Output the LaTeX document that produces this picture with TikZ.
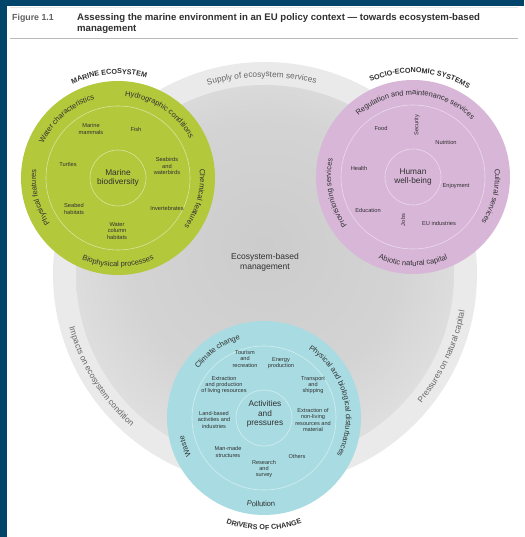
\documentclass[tikz,border=0pt]{standalone}
\usepackage{fontspec}
\setmainfont{Liberation Sans}
\usetikzlibrary{decorations.text}
\definecolor{frame}{HTML}{02446A}
\definecolor{eco}{HTML}{B4C83C}
\definecolor{soc}{HTML}{D8B6D8}
\definecolor{drv}{HTML}{A8DCE2}
\definecolor{txt}{HTML}{303030}
\definecolor{band}{HTML}{EAEAEA}
\pgfdeclareradialshading{ball}{\pgfpoint{0bp}{4bp}}{color(0bp)=(gray!40); color(18bp)=(gray!34); color(36bp)=(gray!16); color(46bp)=(gray!6); color(50bp)=(gray!8)}
\newcommand{\ringf}{\fontsize{7.5}{8}\selectfont\color{txt}}
\newcommand{\arcf}{\fontsize{8.3}{9}\selectfont\color{gray!80!black}}
\newcommand{\capf}{\bfseries\fontsize{7.2}{8}\selectfont\color{txt}}
% clockwise arc text: centre, radius, mid angle, half span, text
\newcommand{\cwtext}[5]{\path[decorate,decoration={text along path,text align=center,text={#5}}] ([shift={(#3+#4:#2)}]#1) arc[start angle=#3+#4, end angle=#3-#4, radius=#2];}
% counter-clockwise arc text
\newcommand{\ccwtext}[5]{\path[decorate,decoration={text along path,text align=center,text={#5}}] ([shift={(#3-#4:#2)}]#1) arc[start angle=#3-#4, end angle=#3+#4, radius=#2];}
\begin{document}
\begin{tikzpicture}[x=1pt,y=1pt,
  inl/.style={font=\fontsize{5.7}{6.4}\selectfont, text=txt, align=center, inner sep=0pt},
  bl/.style={font=\fontsize{5.6}{6.3}\selectfont, text=txt, align=center, inner sep=0pt},
  ctr/.style={font=\fontsize{8.3}{9.3}\selectfont, text=txt, align=center, inner sep=0pt},
  disc/.style={circle, minimum size=194pt, inner sep=0pt},
  ringline/.style={draw=white, draw opacity=0.5, line width=0.6pt},
]
\useasboundingbox (0,0) rectangle (524,537);
\fill[white] (0,0) rectangle (524,537);
\fill[frame] (0,0) rectangle (7,537);
\fill[frame] (0,531) rectangle (524,537);
% header
\coordinate (r1) at (10,499);
\coordinate (r2) at (518,499);
\coordinate (t1) at (10,529.5);
\coordinate (t2) at (518,529.5);
\draw[gray!20, line width=0.4pt] (t1) -- (t2);
\draw[gray!55, line width=0.7pt] (r1) -- (r2);
\node[anchor=base west, inner sep=0pt, font=\bfseries\fontsize{8.8}{11}\selectfont, text=gray!75!black] (fig) at (12,516) {Figure 1.1};
\node[anchor=base west, inner sep=0pt, align=left, font=\bfseries\fontsize{9.6}{11}\selectfont, text=txt] (title) at (77,505) {Assessing the marine environment in an EU policy context --- towards ecosystem-based\\management};
% background disc
\coordinate (B) at (265,263);
\fill[band] (B) circle[radius=212];
\shade[shading=ball] (B) circle[radius=189];
\node[ctr, font=\fontsize{8.5}{9.8}\selectfont] (ebm) at (265,275) {Ecosystem-based\\management};
\cwtext{B}{197}{91}{40}{|\arcf|Supply of ecosystem services}
\ccwtext{B}{203}{212}{40}{|\arcf|Impacts on ecosystem condition}
\ccwtext{B}{203}{-25}{40}{|\arcf|Pressures on natural capital}
% circles
\node[disc, fill=eco] (G) at (118,359) {};
\node[disc, fill=soc] (S) at (413,360) {};
\node[disc, fill=drv] (D) at (264,119) {};
\foreach \c in {G,S,D}{
  \draw[ringline] (\c) circle[radius=72];
  \draw[ringline] (\c) circle[radius=28];
}
\foreach \a in {94,42,-8,-61,-118,-170,142}{
  \draw[ringline] ([shift={(\a:28)}]G) -- ([shift={(\a:72)}]G);
}
% titles
\cwtext{G}{104}{95}{50}{|\capf|MARINE ECOSYSTEM}
\cwtext{S}{104}{86}{55}{|\capf|SOCIO-ECONOMIC SYSTEMS}
\ccwtext{D}{112}{-90}{50}{|\capf|DRIVERS OF CHANGE}
% green
\node[ctr] (gc) at (G) {Marine\\biodiversity};
\node[inl] (g1) at ([shift={(-27,49)}]G) {Marine\\mammals};
\node[inl] (g2) at ([shift={(18,49)}]G) {Fish};
\node[inl] (g3) at ([shift={(49,12)}]G) {Seabirds\\and\\waterbirds};
\node[inl] (g4) at ([shift={(49,-30)}]G) {Invertebrates};
\node[inl] (g5) at ([shift={(-1,-53)}]G) {Water\\column\\habitats};
\node[inl] (g6) at ([shift={(-44,-31)}]G) {Seabed\\habitats};
\node[inl] (g7) at ([shift={(-50,14)}]G) {Turtles};
\cwtext{G}{82}{131}{55}{|\ringf|Water characteristics}
\cwtext{G}{82}{57}{55}{|\ringf|Hydrographic conditions}
\cwtext{G}{82}{-15}{50}{|\ringf|Chemical features}
\ccwtext{G}{89}{-90}{55}{|\ringf|Biophysical processes}
\cwtext{G}{82}{194}{50}{|\ringf|Physical features}
% purple
\node[ctr] (sc) at (S) {Human\\well-being};
\node[inl] (s1) at ([shift={(-32,49)}]S) {Food};
\node[inl, rotate=90] (s2) at ([shift={(4,52)}]S) {Security};
\node[inl] (s3) at ([shift={(33,35)}]S) {Nutrition};
\node[inl] (s4) at ([shift={(43,-9)}]S) {Enjoyment};
\node[inl] (s5) at ([shift={(26,-46)}]S) {EU industries};
\node[inl, rotate=90] (s6) at ([shift={(-10,-43)}]S) {Jobs};
\node[inl] (s7) at ([shift={(-45,-33)}]S) {Education};
\node[inl] (s8) at ([shift={(-54,9)}]S) {Health};
\cwtext{S}{82}{88}{65}{|\ringf|Regulation and maintenance services}
\cwtext{S}{82}{-14}{45}{|\ringf|Cultural services}
\ccwtext{S}{89}{-90}{55}{|\ringf|Abiotic natural capital}
\cwtext{S}{82}{192}{50}{|\ringf|Provisioning services}
% blue
\node[ctr] (dc) at ([shift={(1,4)}]D) {Activities\\and\\pressures};
\node[bl] (d1) at ([shift={(-19,59)}]D) {Tourism\\and\\recreation};
\node[bl] (d2) at ([shift={(17,55)}]D) {Energy\\production};
\node[bl] (d3) at ([shift={(49,33)}]D) {Transport\\and\\shipping};
\node[bl] (d4) at ([shift={(49,-2)}]D) {Extraction of\\non-living\\resources and\\material};
\node[bl] (d5) at ([shift={(33,-38)}]D) {Others};
\node[bl] (d6) at ([shift={(0,-51)}]D) {Research\\and\\survey};
\node[bl] (d7) at ([shift={(-36,-34)}]D) {Man-made\\structures};
\node[bl] (d8) at ([shift={(-50,-2)}]D) {Land-based\\activities and\\industries};
\node[bl] (d9) at ([shift={(-40,33)}]D) {Extraction\\and production\\of living resources};
\cwtext{D}{82}{125}{45}{|\ringf|Climate change}
\cwtext{D}{82}{15}{70}{|\ringf|Physical and biological disturbances}
\ccwtext{D}{89}{-92}{40}{|\ringf|Pollution}
\cwtext{D}{82}{200}{35}{|\ringf|Waste}
\end{tikzpicture}
\end{document}
